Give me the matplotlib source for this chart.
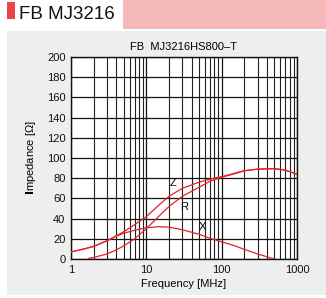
import matplotlib
matplotlib.use("Agg")
import matplotlib.pyplot as plt
from matplotlib.patches import Rectangle
from matplotlib.ticker import FixedLocator, NullFormatter

plt.rcParams['font.family'] = ['Liberation Sans', 'DejaVu Sans']

# Data
freq_z = [1, 1.5, 2, 3, 4, 5, 7, 10, 15, 20, 30, 50, 70, 100, 150, 200, 300, 500, 700, 1000]
z_vals = [7, 10, 12.5, 18, 23, 27, 34, 42, 54, 62, 70, 76, 79, 81.5, 85, 87.5, 89, 89.5, 88, 84]

freq_r = [1.7, 2, 3, 4, 5, 7, 10, 15, 20, 30, 50, 70, 100, 150, 200, 300, 500, 700, 1000]
r_vals = [0.5, 1.5, 5, 9, 13, 20, 30, 43, 52, 62, 71, 77, 81, 84.5, 87.3, 88.9, 89.5, 88, 84]

freq_x = [1, 1.5, 2, 3, 4, 5, 7, 10, 15, 20, 30, 50, 70, 100, 150, 200, 300, 500]
x_vals = [7, 10, 12.5, 18, 22.5, 25.5, 28.5, 31, 32, 31.5, 29, 24.5, 20.5, 17, 13, 9.5, 5, 0]

x_ticks = [1, 10, 100, 1000]
x_ticklabels = ['1', '10', '100', '1000']
y_ticks = [0, 20, 40, 60, 80, 100, 120, 140, 160, 180, 200]

W, H = 326, 298
fig = plt.figure(figsize=(W / 100, H / 100), dpi=100)
fig.patch.set_facecolor('white')

# header
fig.patches.append(Rectangle((123 / W, 1 - 29 / H), (W - 123) / W, 29 / H,
                             transform=fig.transFigure, facecolor='#f4b8b9', edgecolor='none', zorder=-5))
fig.patches.append(Rectangle((7 / W, 1 - 18.5 / H), 8 / W, 16.5 / H,
                             transform=fig.transFigure, facecolor='#e8434a', edgecolor='none', zorder=-5))
fig.text(19 / W, 1 - 12.5 / H, 'FB MJ3216', fontsize=13.5, va='center_baseline', ha='left', color='#111111')
# gray panel
fig.patches.append(Rectangle((7 / W, 1 - 295 / H), (W - 7) / W, (295 - 31) / H,
                             transform=fig.transFigure, facecolor='#eeeeee', edgecolor='none', zorder=-5))

ax = fig.add_axes([71 / W, 1 - 259 / H, (297 - 71) / W, (259 - 57) / H])
ax.set_zorder(5)
ax.set_facecolor('white')
ax.set_xscale('log')
ax.set_xlim(1, 1000)
ax.set_ylim(0, 200)

red = '#e8202a'
ax.plot(freq_z, z_vals, color=red, lw=0.9, zorder=3)
ax.plot(freq_r, r_vals, color=red, lw=0.9, zorder=3)
ax.plot(freq_x, x_vals, color=red, lw=0.9, zorder=3)

ax.text(22.6, 75, 'Z', fontsize=8, ha='center', va='center', zorder=4)
ax.text(31.7, 51.5, 'R', fontsize=8, ha='center', va='center', zorder=4)
ax.text(55, 31.7, 'X', fontsize=8, ha='center', va='center', zorder=4)

ax.set_xticks(x_ticks)
ax.set_xticklabels(x_ticklabels)
minors = [m * d for d in (1, 10, 100) for m in range(2, 10)]
ax.xaxis.set_minor_locator(FixedLocator(minors))
ax.xaxis.set_minor_formatter(NullFormatter())
ax.set_yticks(y_ticks)

ax.grid(which='major', color='#111111', lw=0.9)
ax.grid(which='minor', axis='x', color='#222222', lw=0.8)
ax.set_axisbelow(True)
ax.tick_params(which='both', length=0, labelsize=8, pad=4, colors='#111111')
for s in ax.spines.values():
    s.set_color('#111111')
    s.set_linewidth(1)

ax.set_xlabel('Frequency [MHz]', fontsize=8, labelpad=3)
ax.set_ylabel(r'$\mathbf{I}$mpedance [Ω]', fontsize=8, labelpad=6)
ax.set_title('FB  MJ3216HS800–T', fontsize=8, pad=5)

fig.savefig('out.png', dpi=100, facecolor=fig.get_facecolor())
